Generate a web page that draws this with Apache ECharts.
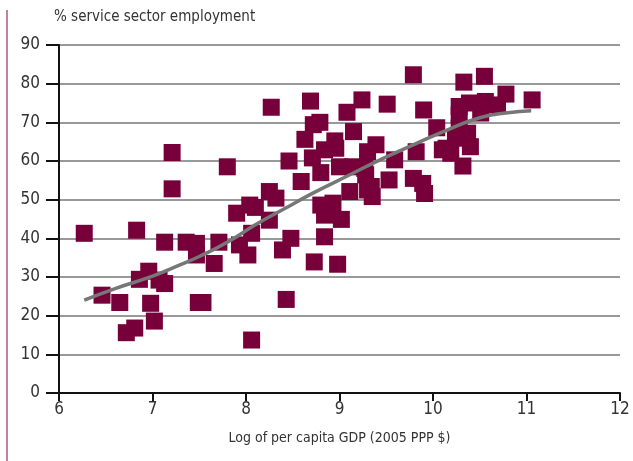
<!DOCTYPE html>
<html>
<head>
<meta charset="utf-8">
<script src="https://cdn.jsdelivr.net/npm/echarts@6/dist/echarts.min.js"></script>
<style>
  html, body { margin: 0; padding: 0; background: #fff; }
  #chart { width: 633px; height: 461px; }
</style>
</head>
<body>
<div id="chart"></div>
<script>
// log of per capita GDP, % service sector employment
const gdpLog = [
  6.27, 6.46, 6.65, 6.72, 6.81, 6.83, 6.86, 6.96, 6.98, 7.02,
  7.07, 7.13, 7.13, 7.21, 7.21, 7.36, 7.47, 7.47, 7.49, 7.54,
  7.66, 7.71, 7.80, 7.90, 7.93, 8.02, 8.04, 8.06, 8.06, 8.10,
  8.25, 8.25, 8.27, 8.32, 8.39, 8.43, 8.46, 8.48, 8.59, 8.63,
  8.69, 8.71, 8.72, 8.79, 8.73, 8.80, 8.80, 8.84, 8.84, 8.84,
  8.93, 8.95, 8.96, 8.98, 9.00, 9.02, 9.08, 9.11, 9.14, 9.15,
  9.24, 9.27, 9.28, 9.30, 9.30, 9.34, 9.35, 9.39, 9.51, 9.53,
  9.59, 9.79, 9.79, 9.82, 9.89, 9.90, 9.91, 10.04, 10.10, 10.14,
  10.19, 10.24, 10.28, 10.28, 10.28, 10.32, 10.33, 10.37, 10.39, 10.40,
  10.51, 10.55, 10.56, 10.69, 10.78, 11.06
];
const serviceShare = [
  41.3, 25.3, 23.4, 15.6, 16.8, 42.1, 29.4, 31.5, 23.2, 18.6,
  29.2, 28.3, 39.0, 62.2, 52.8, 39.0, 38.7, 35.7, 23.4, 23.4,
  33.5, 39.0, 58.5, 46.5, 38.3, 35.7, 48.6, 41.3, 13.7, 48.0,
  52.1, 44.7, 73.9, 50.4, 37.0, 24.2, 60.0, 40.0, 54.7, 65.6,
  75.5, 60.8, 69.4, 70.0, 33.9, 57.0, 48.6, 46.0, 40.4, 62.9,
  49.1, 65.2, 63.3, 33.3, 58.5, 44.9, 72.6, 52.1, 58.5, 67.6,
  75.8, 58.1, 56.4, 52.5, 62.4, 53.4, 50.8, 64.2, 74.7, 55.1,
  60.3, 82.3, 55.5, 62.4, 54.2, 73.2, 51.6, 68.6, 62.9, 63.3,
  62.0, 65.9, 74.1, 71.9, 68.5, 58.7, 80.4, 67.2, 75.0, 63.7,
  72.4, 81.9, 75.4, 74.5, 77.3, 75.8
];

// fitted trend
const trendX = [6.27, 6.6, 7.0, 7.3, 7.5, 7.8, 8.1, 8.4, 8.7, 9.1, 9.45, 9.8, 10.15, 10.5, 10.8, 11.05];
const trendY = [24.0, 27.0, 30.2, 33.2, 35.3, 39.0, 43.5, 47.5, 51.5, 56.3, 60.5, 64.3, 68.0, 71.2, 72.5, 73.0];

const yTitle = '% service sector employment';
const xTitle = 'Log of per capita GDP (2005 PPP $)';

const font = '"DejaVu Sans Condensed", "Liberation Sans Narrow", "Roboto", sans-serif';

const chart = echarts.init(document.getElementById('chart'));

chart.setOption({
  animation: false,
  grid: { left: 59, right: 13, top: 45, bottom: 68 },
  graphic: [
    {
      type: 'line',
      shape: { x1: 7, y1: 10, x2: 7, y2: 461 },
      style: { stroke: '#a9578a', lineWidth: 1.5 }
    },
    {
      type: 'text',
      left: 54,
      top: 10,
      style: { text: yTitle, fill: '#333', font: '15px ' + font }
    }
  ],
  xAxis: {
    type: 'value',
    min: 6,
    max: 12,
    interval: 1,
    name: xTitle,
    nameLocation: 'middle',
    nameGap: 38,
    nameTextStyle: { color: '#333', fontSize: 14, fontFamily: font },
    axisLine: { lineStyle: { color: '#111', width: 2 } },
    axisTick: { length: 8, lineStyle: { color: '#111', width: 2 } },
    axisLabel: { color: '#333', fontSize: 17, fontFamily: font, margin: 8 },
    splitLine: { show: false }
  },
  yAxis: {
    type: 'value',
    min: 0,
    max: 90,
    interval: 10,
    axisLine: { show: true, lineStyle: { color: '#111', width: 2 } },
    axisTick: { show: true, length: 13, lineStyle: { color: '#111', width: 2 } },
    axisLabel: { color: '#333', fontSize: 17, fontFamily: font, margin: 19 },
    splitLine: { lineStyle: { color: '#777', width: 1.5 } }
  },
  series: [
    {
      type: 'scatter',
      symbol: 'rect',
      symbolSize: 17,
      itemStyle: { color: '#77003a', opacity: 1 },
      data: gdpLog.map((x, i) => [x, serviceShare[i]]),
      z: 2
    },
    {
      type: 'line',
      smooth: true,
      showSymbol: false,
      lineStyle: { color: '#777', width: 3.5 },
      data: trendX.map((x, i) => [x, trendY[i]]),
      z: 3
    }
  ]
});
</script>
</body>
</html>
